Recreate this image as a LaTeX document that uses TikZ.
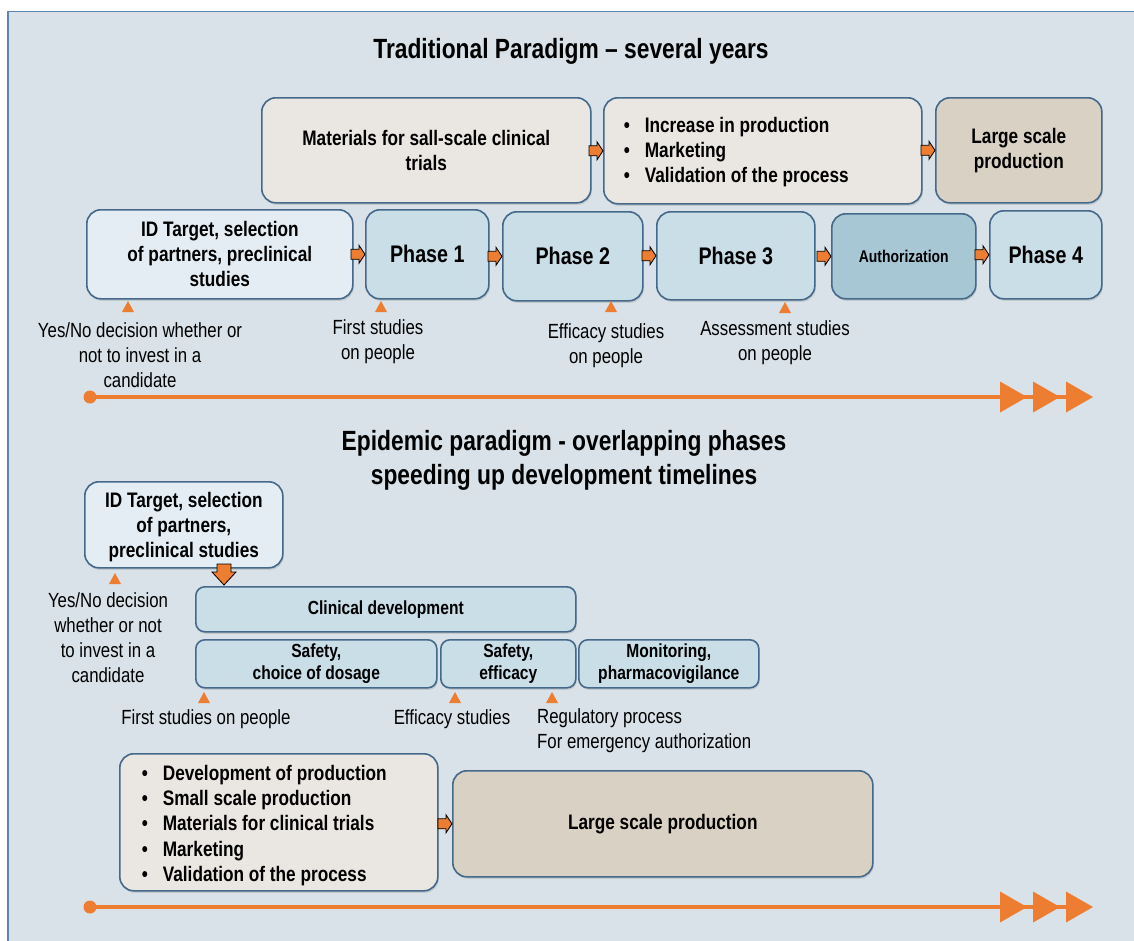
\documentclass[tikz,border=0pt]{standalone}
\usepackage{fontspec}
\setmainfont{Liberation Sans}[FakeStretch=0.82]
\usetikzlibrary{shadows,calc}
\definecolor{bgc}{HTML}{D9E2E8}
\definecolor{framec}{HTML}{5E86B0}
\definecolor{boxline}{HTML}{45698A}
\definecolor{beigeA}{HTML}{EAE6E2}
\definecolor{beigeB}{HTML}{D9D1C3}
\definecolor{blueA}{HTML}{E4EDF3}
\definecolor{blueB}{HTML}{CADEE8}
\definecolor{blueC}{HTML}{A7C7D5}
\definecolor{orangeC}{HTML}{ED7D31}
\tikzset{
  box/.style={draw=boxline, line width=1.6pt, rounded corners=14pt, align=center,
    anchor=north west, inner sep=0pt, text=black,
    font=\bfseries\fontsize{21}{25}\selectfont,
    drop shadow={shadow xshift=1pt, shadow yshift=-2pt, opacity=0.25}},
  smallbox/.style={box, rounded corners=9pt, font=\bfseries\fontsize{19}{22}\selectfont},
  label/.style={align=center, inner sep=0pt, font=\fontsize{20.5}{25}\selectfont},
  titletext/.style={align=center, inner sep=0pt, font=\bfseries\fontsize{27.8}{34}\selectfont},
  fatarrow/.style={fill=orangeC, draw=black, line width=0.8pt, line join=miter},
  marker/.style={fill=orangeC},
  timeline/.style={draw=orangeC, line width=4pt},
}
\newcommand\fatR[1]{\draw[fatarrow] (#1.west) -- ++(-6,-9) -- ++(0,4) -- ++(-8,0) -- ++(0,10) -- ++(8,0) -- ++(0,4) -- cycle;}
\newcommand\mrk[1]{\fill[marker] (#1) ++(-6,5) -- ++(12,0) -- ++(-6,-11) -- cycle;}
\newcommand\tri[1]{\fill[orangeC] (#1) ++(0,-15.5) -- ++(27,15.5) -- ++(-27,15.5) -- cycle;}
\newcommand\bitem{\textbullet\hspace{15pt}}
\begin{document}
\begin{tikzpicture}[x=1pt,y=-1pt]
\useasboundingbox (0,0) rectangle (1134,940);
\clip (0,0) rectangle (1134,940);
\fill[white] (0,0) rectangle (1134,940);
\filldraw[fill=bgc, draw=framec, line width=1.5pt] (8,11.5) rectangle (1150,960);

% ---------- Traditional paradigm ----------
\node[titletext] (t1) at (571,51) {Traditional Paradigm -- several years};

\node[box, fill=beigeA, minimum width=329pt, minimum height=105pt] (mat) at (261,97)
  {Materials for sall-scale clinical\\trials};
\node[box, fill=beigeA, minimum width=318pt, minimum height=106pt, align=left, text width=278pt] (inc) at (603,97)
  {\spaceskip=0pt\xspaceskip=0pt\bitem Increase in production\\\bitem Marketing\\\bitem Validation of the process\par\vspace{-2pt}};
\node[box, fill=beigeB, minimum width=166pt, minimum height=105pt] (lsp) at (935,97)
  {Large scale\\production};

\node[box, fill=blueA, minimum width=266pt, minimum height=89pt] (id1) at (86,209)
  {ID Target, selection\\of partners, preclinical\\studies};
\node[box, fill=blueB, minimum width=123pt, minimum height=89pt, font=\bfseries\fontsize{24}{28}\selectfont] (p1) at (365,209) {Phase 1};
\node[box, fill=blueB, minimum width=140pt, minimum height=89pt, font=\bfseries\fontsize{24}{28}\selectfont] (p2) at (502,211) {Phase 2};
\node[box, fill=blueB, minimum width=158pt, minimum height=88pt, font=\bfseries\fontsize{24}{28}\selectfont] (p3) at (656,211) {Phase 3};
\node[box, fill=blueC, minimum width=144pt, minimum height=85pt, font=\bfseries\fontsize{17}{20}\selectfont] (auth) at (831,213) {Authorization};
\node[box, fill=blueB, minimum width=112pt, minimum height=88pt, font=\bfseries\fontsize{24}{28}\selectfont] (p4) at (989,210) {Phase 4};

\fatR{inc} \fatR{lsp}
\fatR{p1} \fatR{p2} \fatR{p3} \fatR{auth} \fatR{p4}

\coordinate (m1) at (128,307); \coordinate (m2) at (381,307);
\coordinate (m3) at (611,307); \coordinate (m4) at (785,308);
\mrk{m1} \mrk{m2} \mrk{m3} \mrk{m4}

\node[label] (l1) at (140,355) {Yes/No decision whether or\\not to invest in a\\candidate};
\node[label] (l2) at (378,342) {First studies\\on people};
\node[label] (l3) at (606,346) {Efficacy studies\\on people};
\node[label] (l4) at (775,343) {Assessment studies\\on people};

\coordinate (a0) at (90,397); \coordinate (a1) at (1088,397);
\draw[timeline] (a0) -- (a1);
\fill[orangeC] (a0) circle (6.5);
\coordinate (a2) at (1000,397); \coordinate (a3) at (1033,397); \coordinate (a4) at (1066,397);
\tri{a2} \tri{a3} \tri{a4}

% ---------- Epidemic paradigm ----------
\node[titletext] (t2) at (564,460) {Epidemic paradigm - overlapping phases\\speeding up development timelines};

\node[box, fill=blueA, minimum width=198pt, minimum height=86pt] (id2) at (84,481)
  {\vphantom{Iy}\\[-19pt]ID Target, selection\\of partners,\\preclinical studies};
\node[smallbox, fill=blueB, minimum width=380pt, minimum height=45pt] (cd) at (195,586) {Clinical development};
\node[smallbox, fill=blueB, minimum width=241pt, minimum height=48pt] (s1) at (195,639) {Safety,\\choice of dosage};
\node[smallbox, fill=blueB, minimum width=135pt, minimum height=48pt] (s2) at (440,639) {Safety,\\efficacy};
\node[smallbox, fill=blueB, minimum width=180pt, minimum height=48pt] (mon) at (578,639) {Monitoring,\\pharmacovigilance};

\draw[fatarrow] (cd.north -| 224,0) ++(0,-1) -- ++(-12,-13) -- ++(5,0) -- ++(0,-8) -- ++(14,0) -- ++(0,8) -- ++(5,0) -- cycle;

\coordinate (m5) at (115,579); \coordinate (m6) at (204,698);
\coordinate (m7) at (455,698); \coordinate (m8) at (552,698);
\mrk{m5} \mrk{m6} \mrk{m7} \mrk{m8}

\node[label] (l5) at (108,638) {Yes/No decision\\whether or not\\to invest in a\\candidate};
\node[label] (l6) at (206,719) {First studies on people};
\node[label] (l7) at (452,719) {Efficacy studies};
\node[label, align=left, anchor=west] (l8) at (537,731) {Regulatory process\\For emergency authorization};

\node[box, fill=beigeA, minimum width=318pt, minimum height=137pt, align=left, text width=274pt,
  font=\bfseries\fontsize{21}{25.3}\selectfont] (bul) at (119,753)
  {\spaceskip=0pt\xspaceskip=0pt\bitem Development of production\\\bitem Small scale production\\\bitem Materials for clinical trials\\\bitem Marketing\\\bitem Validation of the process\par\vspace{-6pt}};
\node[box, fill=beigeB, minimum width=420pt, minimum height=106pt] (lsp2) at (452,770) {Large scale production};
\fatR{lsp2}

\coordinate (b0) at (90,907); \coordinate (b1) at (1088,907);
\draw[timeline] (b0) -- (b1);
\fill[orangeC] (b0) circle (6.5);
\coordinate (b2) at (1000,907); \coordinate (b3) at (1033,907); \coordinate (b4) at (1066,907);
\tri{b2} \tri{b3} \tri{b4}
\end{tikzpicture}
\end{document}
